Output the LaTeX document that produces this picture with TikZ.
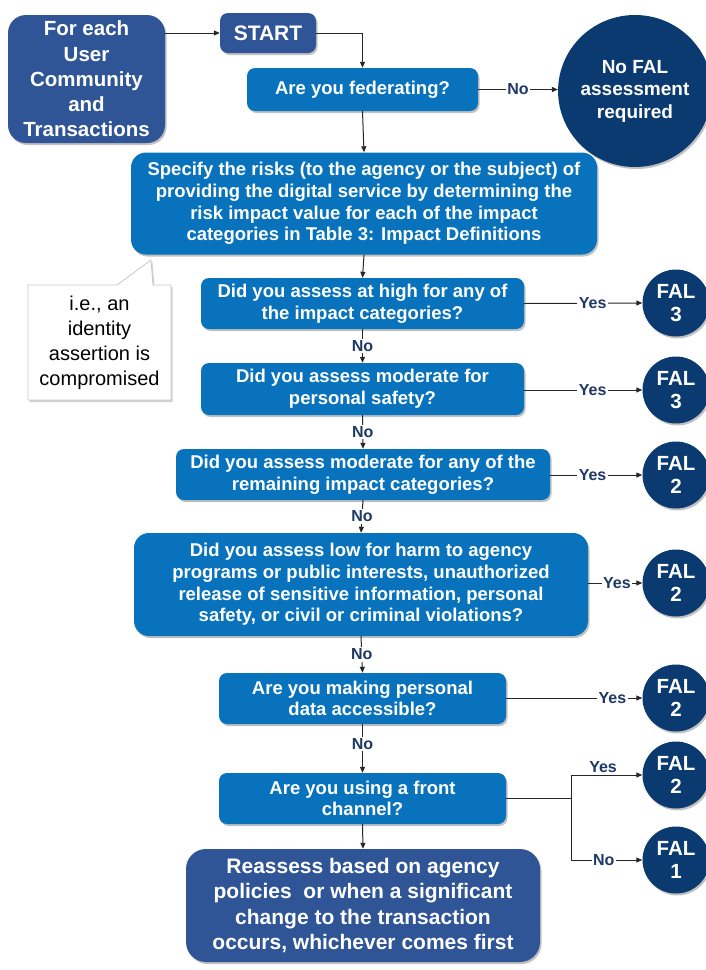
\documentclass[tikz,border=0pt]{standalone}
\usepackage{fontspec}
\setmainfont{Liberation Sans}
\usetikzlibrary{arrows.meta,shadows,shapes.callouts,shapes.geometric}
\definecolor{darkbox}{RGB}{47,85,151}
\definecolor{lightbox}{RGB}{8,115,188}
\definecolor{navyc}{RGB}{10,58,112}
\definecolor{labnavy}{RGB}{31,56,100}
\definecolor{calloutgray}{RGB}{200,200,200}
\begin{document}
\begin{tikzpicture}[x=1pt,y=-1pt,
  shad/.style={drop shadow={shadow xshift=1.5pt,shadow yshift=-2pt,opacity=0.35,fill=black!70}},
  box/.style={shad,text=white,align=center,inner sep=0pt,
    font=\bfseries\fontsize{18.5}{21.7}\selectfont},
  lbox/.style={box,fill=lightbox,rounded corners=8pt},
  dbox/.style={box,fill=darkbox,rounded corners=14pt},
  falc/.style={shad,circle,fill=navyc,minimum size=67pt,inner sep=0pt,text=white,align=center,
    font=\bfseries\fontsize{20.5}{23}\selectfont},
  arr/.style={draw=black!85,line width=1pt,-{Triangle[length=6pt,width=5pt]}},
  ln/.style={draw=black!85,line width=1pt},
  lab/.style={fill=white,text=labnavy,inner sep=1.5pt,font=\bfseries\fontsize{16}{18}\selectfont}
]
\useasboundingbox (0,0) rectangle (706,970);

% left and top
\node[dbox,rounded corners=18pt,minimum width=157pt,minimum height=128pt,
  font=\bfseries\fontsize{20.5}{25.2}\selectfont] (fe) at (86.5,79)
  {For each\\User\\Community\\and\\Transactions};
\node[dbox,rounded corners=8pt,minimum width=96pt,minimum height=40pt,
  font=\bfseries\fontsize{21}{24}\selectfont] (start) at (268,33) {START};
\node[lbox,minimum width=231pt,minimum height=43pt] (fed) at (362.5,89.5) {Are you federating?};
\node[shad,ellipse,fill=navyc,minimum width=150pt,minimum height=152pt,inner sep=0pt,
  text=white,align=center,font=\bfseries\fontsize{19}{22.5}\selectfont] (nofal) at (635,91)
  {No FAL\\assessment\\required};

\node[lbox,rounded corners=15pt,minimum width=466pt,minimum height=102pt] (spec) at (364,203.5)
  {Specify the risks (to the agency or the subject) of\\
   providing the digital service by determining the\\
   risk impact value for each of the impact\\
   categories in Table 3: Impact Definitions};

% callout
\node[rectangle callout,callout absolute pointer={(151,260)},callout pointer width=36pt,
  fill=white,draw=calloutgray,line width=0.8pt,
  drop shadow={shadow xshift=1.5pt,shadow yshift=-2pt,opacity=0.3,fill=black!60},
  minimum width=143pt,minimum height=115pt,inner sep=0pt,align=center,
  font=\fontsize{20}{25}\selectfont] (note) at (99.5,342.5)
  {i.e., an\\identity\\assertion is\\compromised};

% questions
\node[lbox,minimum width=323pt,minimum height=51pt] (q1) at (362.5,303.5)
  {Did you assess at high for any of\\the impact categories?};
\node[lbox,minimum width=323pt,minimum height=52pt] (q2) at (362.5,389)
  {Did you assess moderate for\\personal safety?};
\node[lbox,minimum width=374pt,minimum height=51pt] (q3) at (363,474.5)
  {Did you assess moderate for any of the\\remaining impact categories?};
\node[lbox,rounded corners=15pt,minimum width=454pt,minimum height=103pt] (q4) at (361,584.5)
  {Did you assess low for harm to agency\\
   programs or public interests, unauthorized\\
   release of sensitive information, personal\\
   safety, or civil or criminal violations?};
\node[lbox,minimum width=287pt,minimum height=51pt] (q5) at (362.5,698.5)
  {Are you making personal\\data accessible?};
\node[lbox,minimum width=287pt,minimum height=51pt] (q6) at (362.5,798.5)
  {Are you using a front\\channel?};
\node[dbox,rounded corners=20pt,minimum width=354pt,minimum height=113pt,
  font=\bfseries\fontsize{21}{25.5}\selectfont] (re) at (363,905.5)
  {Reassess based on agency\\policies~ or when a significant\\change to the transaction\\occurs, whichever comes first};

% FAL circles
\node[falc] (f1) at (676,303) {FAL\\3};
\node[falc] (f2) at (676,390) {FAL\\3};
\node[falc] (f3) at (676,475) {FAL\\2};
\node[falc] (f4) at (676,583) {FAL\\2};
\node[falc] (f5) at (676,698) {FAL\\2};
\node[falc] (f6) at (676,775) {FAL\\2};
\node[falc] (f7) at (676,860) {FAL\\1};

% connectors
\draw[arr] (fe.east |- start.west) -- (start.west);
\draw[arr] (start.east) -| (fed.north);
\draw[arr] (fed.east) -- node[lab] {No} (fed.east -| nofal.west);
\draw[arr] (fed.south) -- (spec.north);
\draw[arr] (spec.south) -- (q1.north);
\draw[arr] (q1.south) -- node[lab] {No} (q2.north);
\draw[arr] (q2.south) -- node[lab] {No} (q3.north);
\draw[arr] (q3.south) -- node[lab] {No} (q4.north);
\draw[arr] (q4.south) -- node[lab] {No} (q5.north);
\draw[arr] (q5.south) -- node[lab,pos=0.4] {No} (q6.north);
\draw[arr] (q6.south) -- (re.north);

\draw[arr] (q1.east) -- node[lab,pos=0.58] {Yes} (f1.west);
\draw[arr] (q2.east |- f2.west) -- node[lab,pos=0.58] {Yes} (f2.west);
\draw[arr] (q3.east |- f3.west) -- node[lab,pos=0.46] {Yes} (f3.west);
\draw[arr] (q4.east |- f4.west) -- node[lab,pos=0.53] {Yes} (f4.west);
\draw[arr] (q5.east |- f5.west) -- node[lab,pos=0.78] {Yes} (f5.west);

\coordinate (br) at (571,798.5);
\draw[ln] (q6.east) -- (br);
\draw[ln] (br |- f6.west) -- (br |- f7.west);
\draw[arr] (br |- f6.west) -- node[lab,pos=0.45,yshift=8pt] {Yes} (f6.west);
\draw[arr] (br |- f7.west) -- node[lab,pos=0.46] {No} (f7.west);
\end{tikzpicture}
\end{document}
